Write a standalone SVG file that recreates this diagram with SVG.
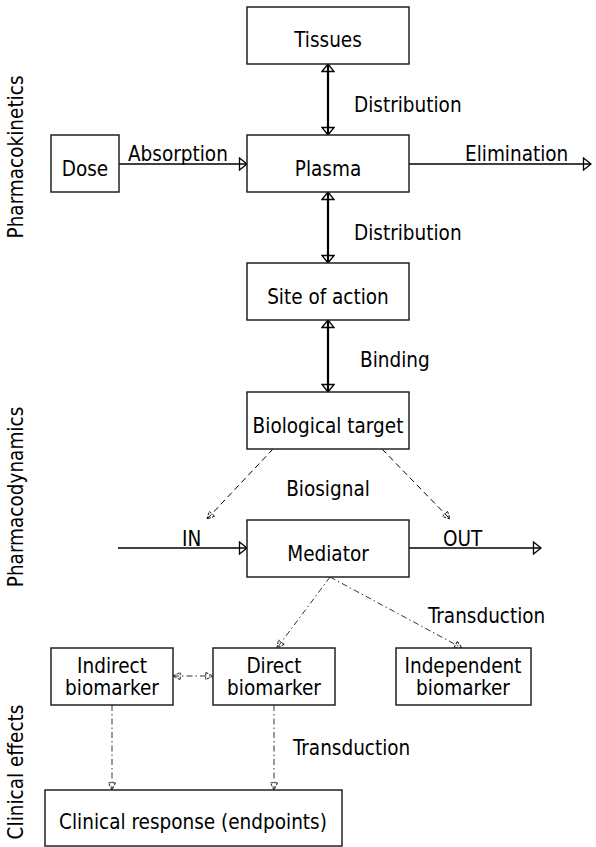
<svg xmlns="http://www.w3.org/2000/svg" width="596" height="847" viewBox="0 0 596 847">
<defs>
<style>
text{font-family:"DejaVu Sans Condensed","DejaVu Sans","Liberation Sans",sans-serif;font-stretch:condensed;font-size:20.5px;fill:#000}
.c{text-anchor:middle}
.box{fill:#fff;stroke:#222;stroke-width:1.5}
.solid{stroke:#000;stroke-width:1.4;fill:none}
.thick{stroke:#000;stroke-width:2.2;fill:none}
.dash{stroke:#000;stroke-width:1;stroke-dasharray:6,4;fill:none}
.dd{stroke:#333;stroke-width:1;stroke-dasharray:6,3,1.5,3;fill:none}
</style>
<marker id="tri" viewBox="0 0 10 14" refX="9" refY="7" markerWidth="10" markerHeight="14" markerUnits="userSpaceOnUse" orient="auto-start-reverse">
<path d="M1.5,1 L9,7 L1.5,13 Z" fill="none" stroke="#000" stroke-width="1.3"/>
</marker>
<marker id="trs" viewBox="0 0 10 10" refX="9" refY="5" markerWidth="9" markerHeight="9" markerUnits="userSpaceOnUse" orient="auto-start-reverse">
<path d="M1,1 L9,5 L1,9 Z" fill="none" stroke="#000" stroke-width="1" stroke-dasharray="3,1.5"/>
</marker>
</defs>

<g id="side-labels">
<text class="c" transform="translate(23,157) rotate(-90)">Pharmacokinetics</text>
<text class="c" transform="translate(23,497) rotate(-90)">Pharmacodynamics</text>
<text class="c" transform="translate(23,772) rotate(-90)">Clinical effects</text>
</g>

<g id="connectors">
<line class="thick" x1="328" y1="64" x2="328" y2="135" marker-start="url(#tri)" marker-end="url(#tri)"/>
<line class="solid" x1="119" y1="164" x2="247" y2="164" marker-end="url(#tri)"/>
<line class="solid" x1="409" y1="164" x2="591" y2="164" marker-end="url(#tri)"/>
<line class="thick" x1="328" y1="192" x2="328" y2="263" marker-start="url(#tri)" marker-end="url(#tri)"/>
<line class="thick" x1="328" y1="320" x2="328" y2="392" marker-start="url(#tri)" marker-end="url(#tri)"/>
<line class="dash" x1="273" y1="449" x2="207" y2="519" marker-end="url(#trs)"/>
<line class="dash" x1="382" y1="449" x2="450" y2="519" marker-end="url(#trs)"/>
<line class="solid" x1="118" y1="548" x2="247" y2="548" marker-end="url(#tri)"/>
<line class="solid" x1="409" y1="548" x2="541" y2="548" marker-end="url(#tri)"/>
<line class="dd" x1="330" y1="577" x2="277" y2="648" marker-end="url(#trs)"/>
<line class="dd" x1="330" y1="577" x2="462" y2="648" marker-end="url(#trs)"/>
<line class="dd" x1="173" y1="676" x2="213" y2="676" marker-start="url(#trs)" marker-end="url(#trs)"/>
<line class="dd" x1="112" y1="705" x2="112" y2="790" marker-end="url(#trs)"/>
<line class="dd" x1="274" y1="705" x2="274" y2="790" marker-end="url(#trs)"/>
<text x="354" y="112">Distribution</text>
<text x="128" y="161">Absorption</text>
<text x="465" y="161">Elimination</text>
<text x="354" y="240">Distribution</text>
<text x="360" y="367">Binding</text>
<text class="c" x="328" y="496">Biosignal</text>
<text x="182" y="546">IN</text>
<text x="443" y="546">OUT</text>
<text x="428" y="623">Transduction</text>
<text x="293" y="755">Transduction</text>
</g>

<g id="tissues"><rect class="box" x="247" y="7" width="162" height="57"/><text class="c" x="328" y="47">Tissues</text></g>
<g id="dose"><rect class="box" x="51" y="135" width="68" height="57"/><text class="c" x="85" y="176">Dose</text></g>
<g id="plasma"><rect class="box" x="247" y="135" width="162" height="57"/><text class="c" x="328" y="176">Plasma</text></g>
<g id="site"><rect class="box" x="247" y="263" width="162" height="57"/><text class="c" x="328" y="304">Site of action</text></g>
<g id="target"><rect class="box" x="247" y="392" width="162" height="57"/><text class="c" x="328" y="433">Biological target</text></g>
<g id="mediator"><rect class="box" x="247" y="520" width="162" height="57"/><text class="c" x="328" y="561">Mediator</text></g>
<g id="indirect"><rect class="box" x="51" y="648" width="122" height="57"/><text class="c" x="112" y="673">Indirect</text><text class="c" x="112" y="695">biomarker</text></g>
<g id="direct"><rect class="box" x="213" y="648" width="122" height="57"/><text class="c" x="274" y="673">Direct</text><text class="c" x="274" y="695">biomarker</text></g>
<g id="independent"><rect class="box" x="396" y="648" width="135" height="57"/><text class="c" x="463" y="673">Independent</text><text class="c" x="463" y="695">biomarker</text></g>
<g id="clinical"><rect class="box" x="45" y="790" width="297" height="56"/><text class="c" x="193" y="829">Clinical response (endpoints)</text></g>
</svg>
